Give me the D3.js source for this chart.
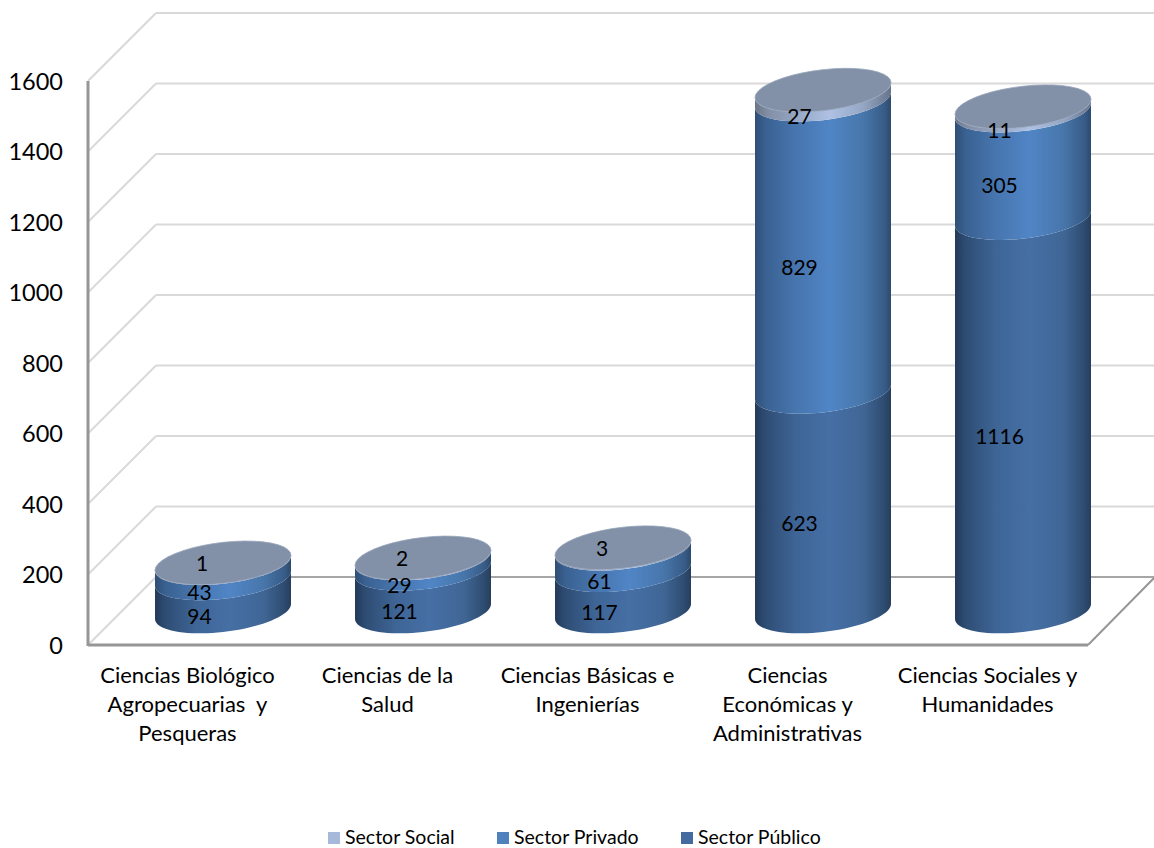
<!DOCTYPE html>
<html lang="es">
<head>
<meta charset="utf-8">
<script src="https://cdn.jsdelivr.net/npm/d3@7"></script>
<style>
html,body{margin:0;padding:0;background:#fff}
svg{display:block}
text{font-family:Lato,"Open Sans",sans-serif;fill:#000}
</style>
</head>
<body>
<svg id="c" width="1154" height="848"></svg>
<script>
const categories = ["Ciencias Biológico|Agropecuarias  y|Pesqueras","Ciencias de la|Salud","Ciencias Básicas e|Ingenierías","Ciencias|Económicas y|Administrativas","Ciencias Sociales y|Humanidades"];
const sectorPublico = [94,121,117,623,1116];
const sectorPrivado = [43,29,61,829,305];
const sectorSocial = [1,2,3,27,11];
const yTicks = [0,200,400,600,800,1000,1200,1400,1600];
const seriesNames = ["Sector Social","Sector Privado","Sector Público"];

const svg = d3.select("#c");
const depth = 68, front = 645, top1600 = 81, left = 88, right = 1088;
const y = d3.scaleLinear().domain([0,1600]).range([front, top1600]);
const xFloor = d3.scaleBand().domain(categories).range([left, right]);
const xCyl = d3.scaleBand().domain(categories).range([left+35, right+35]);

const rx = 68, ryy = 20.5, shear = -7.5, baseLift = 33.5;
const stops = {
  pub:[[0,"#233a5a"],[0.08,"#2e4d74"],[0.3,"#3e6596"],[0.55,"#466fa5"],[0.8,"#3f6695"],[0.95,"#2e4c70"],[1,"#263e5c"]],
  pri:[[0,"#2f4e76"],[0.08,"#3a6292"],[0.3,"#4775ae"],[0.55,"#5085c6"],[0.8,"#4776a9"],[0.95,"#385c88"],[1,"#2c4a6c"]],
  soc:[[0,"#6b7686"],[0.1,"#828fa6"],[0.35,"#9aaccb"],[0.55,"#afc1e3"],[0.8,"#94a6c4"],[1,"#66738a"]]
};
const defs = svg.append("defs");
Object.entries(stops).forEach(([id,s])=>{
  const g = defs.append("linearGradient").attr("id",id).attr("x1",0).attr("x2",1).attr("y1",0).attr("y2",0);
  s.forEach(d=>g.append("stop").attr("offset",d[0]).attr("stop-color",d[1]));
});

// walls
const grid = svg.append("g");
yTicks.forEach(v=>{
  if(v>0) grid.append("line").attr("x1",left+depth).attr("x2",1154).attr("y1",y(v)-depth).attr("y2",y(v)-depth)
    .attr("stroke","#d9d9d9").attr("stroke-width",2.2);
  grid.append("line").attr("x1",left).attr("x2",left+depth).attr("y1",y(v)).attr("y2",y(v)-depth)
    .attr("stroke","#d9d9d9").attr("stroke-width",2);
});
// floor
grid.append("line").attr("x1",left+depth).attr("x2",1154).attr("y1",y(0)-depth).attr("y2",y(0)-depth).attr("stroke","#a6a6a6").attr("stroke-width",2);
grid.append("line").attr("x1",right).attr("x2",1154).attr("y1",front).attr("y2",front-depth+1).attr("stroke","#969696").attr("stroke-width",2);
grid.append("line").attr("x1",left).attr("x2",right).attr("y1",front).attr("y2",front).attr("stroke","#969696").attr("stroke-width",3);
grid.append("line").attr("x1",left).attr("x2",left).attr("y1",top1600).attr("y2",front+1).attr("stroke","#969696").attr("stroke-width",3);

// y axis
const yAxis = d3.axisLeft(y).tickValues(yTicks).tickSize(0).tickPadding(0).tickFormat(d3.format("d"));
const ga = svg.append("g").attr("transform","translate(63,0)").call(yAxis);
ga.select(".domain").remove();
ga.selectAll("text").attr("font-size",23.5).attr("dy","0.36em").style("font-family","Lato");

// cylinders
const pt = (cx,cy,t)=>[cx+rx*Math.cos(t), cy+ryy*Math.sin(t)+shear*Math.cos(t)];
const line = d3.line();
const arc = (cx,cy,t0,t1)=>d3.range(0,41).map(i=>pt(cx,cy,t0+(t1-t0)*i/40));
const series = [["pub",sectorPublico],["pri",sectorPrivado],["soc",sectorSocial]];
const cyl = svg.append("g"), labels = svg.append("g");
categories.forEach((c,i)=>{
  const cx = xCyl(c)+xCyl.bandwidth()/2;
  const cyOf = v=>y(v)-baseLift;
  let acc = 0;
  series.forEach(([id,vals])=>{
    const v = vals[i], c0 = cyOf(acc), c1 = cyOf(acc+v);
    cyl.append("path").attr("fill",`url(#${id})`)
      .attr("d",line(arc(cx,c0,Math.PI,0).concat(arc(cx,c1,0,Math.PI)))+"Z");
    const small = v<5;
    labels.append("text").attr("text-anchor","middle").attr("font-size",21).attr("dy","0.36em")
      .attr("x",cx-(small?21:23.5))
      .attr("y",small?c1+1:cyOf(acc+v/2)+21.5)
      .text(v);
    acc += v;
  });
  const topC = cyOf(acc);
  cyl.append("path").attr("fill","#8290a8").attr("stroke","#97a4ba").attr("stroke-width",0.8)
    .attr("d",line(arc(cx,topC,0,2*Math.PI))+"Z");
});

// category labels
const cat = svg.append("g");
categories.forEach(c=>{
  const t = cat.append("text").attr("text-anchor","middle").attr("font-size",22);
  c.split("|").forEach((s,j)=>{
    t.append("tspan").attr("x",xFloor(c)+xFloor.bandwidth()/2-0.5).attr("y",682.5+29*j).attr("xml:space","preserve").text(s);
  });
});

// legend
const legendColors = ["#a7b9da","#4f81bd","#436b9f"];
const legendX = [328,497,681];
seriesNames.forEach((n,i)=>{
  svg.append("rect").attr("x",legendX[i]).attr("y",832).attr("width",12).attr("height",12).attr("fill",legendColors[i]);
  svg.append("text").attr("x",legendX[i]+17).attr("y",844).attr("font-size",19.5).text(n);
});
</script>
</body>
</html>
